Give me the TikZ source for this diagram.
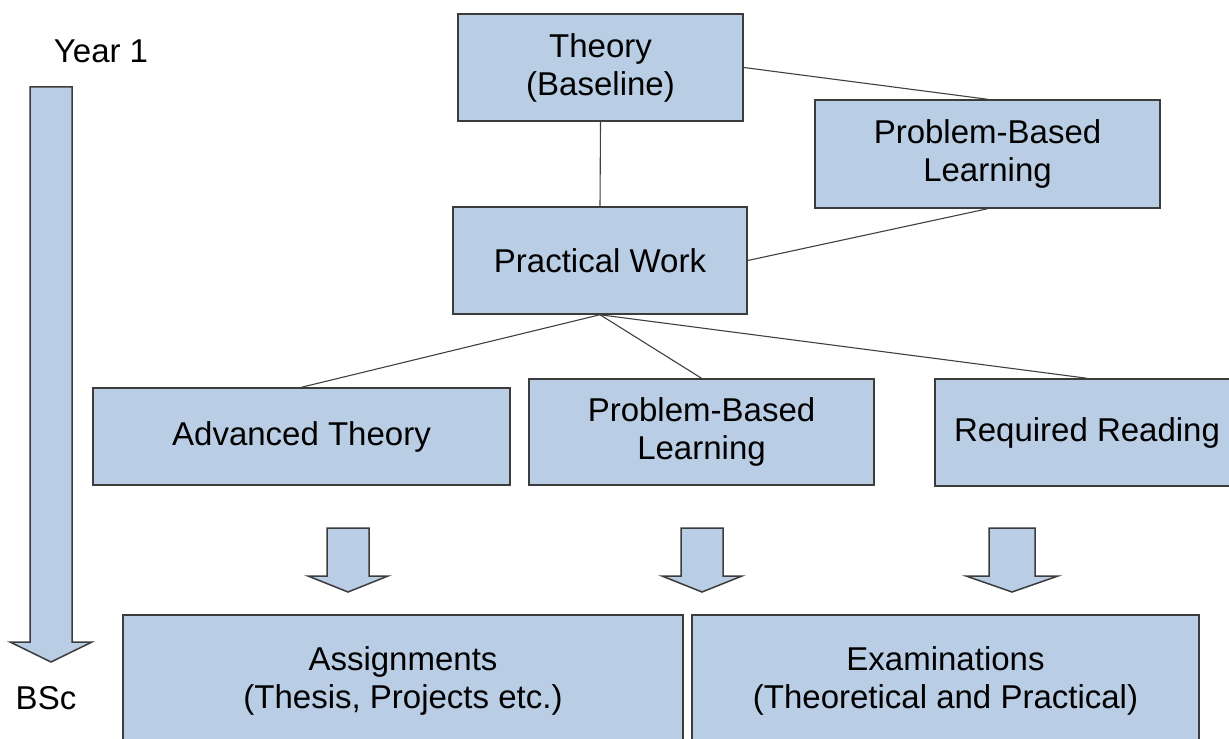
\documentclass[tikz,border=0pt]{standalone}
\usepackage{xcolor}
\usepackage{fontspec}
\setmainfont{Liberation Sans}
\usepackage{tikz}
\definecolor{boxfill}{RGB}{185, 205, 229}
\definecolor{boxline}{RGB}{60, 60, 60}
\definecolor{linkgray}{RGB}{64, 64, 64}

\begin{document}
\begin{tikzpicture}[x=0.5pt, y=-0.5pt,
    stagebox/.style={draw=boxline, fill=boxfill, line width=0.75pt, inner sep=0pt,
        align=center, font=\fontsize{16.5}{19}\selectfont},
    link/.style={draw=linkgray, line width=0.55pt},
    blockarrow/.style={draw=boxline, fill=boxfill, line width=0.75pt, line join=miter}]
    \clip (0,0) rectangle (1229,738);

    % top part
    \node[stagebox, minimum width=142.5pt, minimum height=53.5pt] (theory) at (600.5,67.5) {Theory\\(Baseline)};
    \node[stagebox, minimum width=172.5pt, minimum height=54pt] (pbltop) at (987.5,154) {Problem-Based\\Learning};
    \node[stagebox, minimum width=147pt, minimum height=53.5pt] (practical) at (600,260.5) {Practical Work};

    % middle row
    \node[stagebox, minimum width=208.5pt, minimum height=48.5pt] (advtheory) at (301.5,436.5) {Advanced Theory};
    \node[stagebox, minimum width=172.5pt, minimum height=53pt] (pblmid) at (701.5,432) {Problem-Based\\Learning};
    \node[stagebox, minimum width=152pt, minimum height=53.5pt] (reading) at (1087,432.5) {Required Reading};

    % bottom row
    \node[stagebox, minimum width=280pt, minimum height=66pt] (assign) at (403,681) {Assignments\\(Thesis, Projects etc.)};
    \node[stagebox, minimum width=253.5pt, minimum height=66pt] (exams) at (945.5,681) {Examinations\\(Theoretical and Practical)};

    \draw[link] (theory.south) -- (practical.north);
    \draw[link] (theory.east) -- (pbltop.north);
    \draw[link] (practical.east) -- (pbltop.south);
    \foreach \target in {advtheory, pblmid, reading}
        \draw[link] (practical.south) -- (\target.north);

    % block arrows
    \foreach \ax/\sw/\hw in {348/21/40, 702/21/40, 1012/23/46}
        \draw[blockarrow] (\ax-\sw,528) -- (\ax+\sw,528) -- (\ax+\sw,576) -- (\ax+\hw,576)
            -- (\ax,592) -- (\ax-\hw,576) -- (\ax-\sw,576) -- cycle;

    % time line
    \node[font=\fontsize{16.5}{19}\selectfont] (year) at (101,51) {Year 1};
    \node[font=\fontsize{16.5}{19}\selectfont] (bsc) at (46,698) {BSc};
    \draw[blockarrow] (30,87) -- (72,87) -- (72,642) -- (92,642) -- (51,662)
        -- (10,642) -- (30,642) -- cycle;
\end{tikzpicture}
\end{document}
